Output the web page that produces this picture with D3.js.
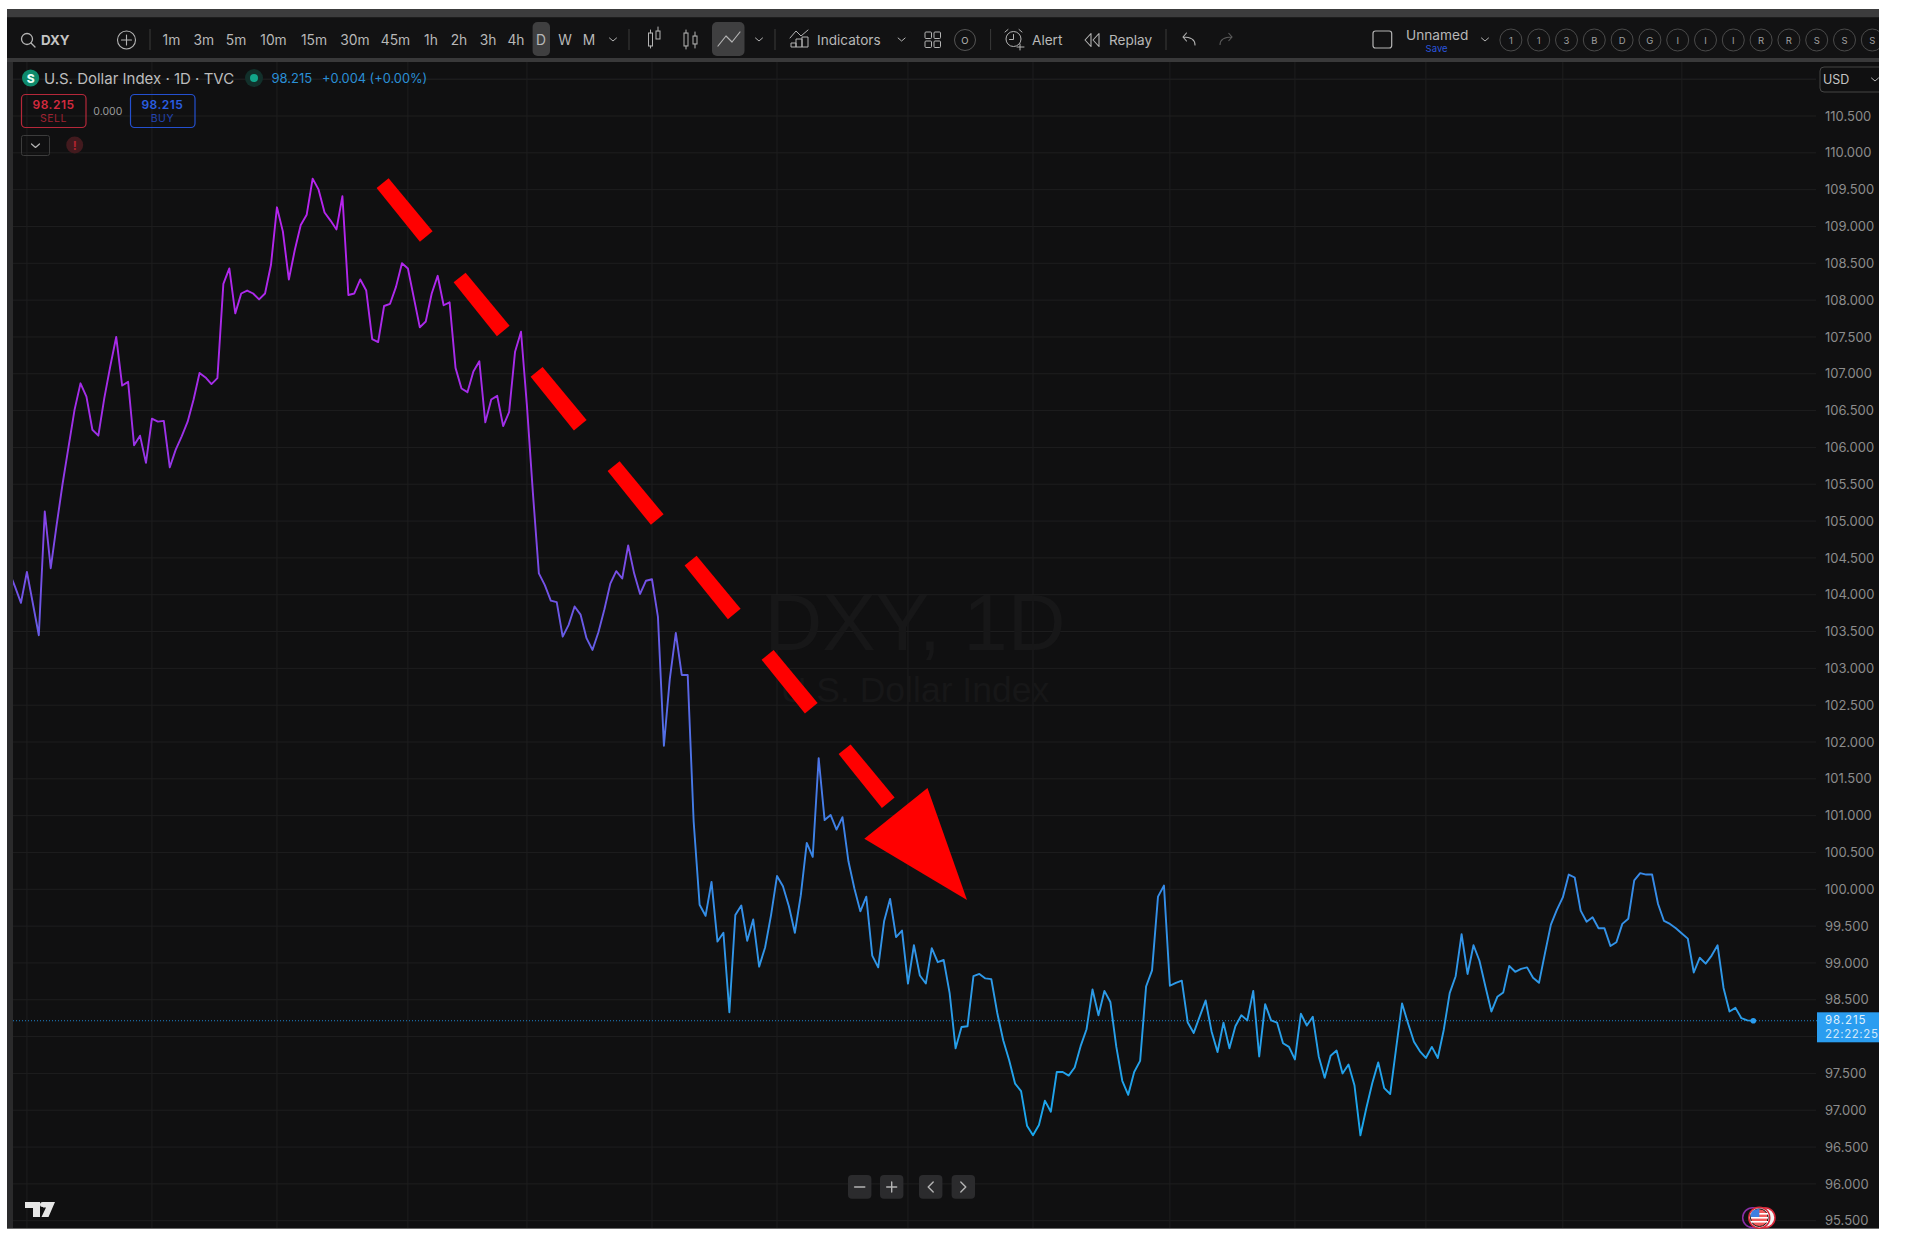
<!DOCTYPE html>
<html><head><meta charset="utf-8">
<script src="https://cdn.jsdelivr.net/npm/d3@7/dist/d3.min.js"></script>
<style>html,body{margin:0;padding:0;background:#fff}svg{display:block}text{font-family:Inter,"Noto Sans",sans-serif}</style>
</head><body><svg id="c" width="1908" height="1240"></svg>
<script>
const prices = [104.31,104.11,103.89,104.31,103.88,103.45,105.13,104.36,104.95,105.51,106.01,106.51,106.87,106.69,106.24,106.16,106.67,107.10,107.50,106.84,106.89,106.03,106.16,105.79,106.39,106.35,106.36,105.73,105.97,106.15,106.35,106.65,107.01,106.95,106.86,106.94,108.22,108.43,107.82,108.09,108.13,108.09,108.01,108.09,108.48,109.26,108.93,108.28,108.68,109.02,109.16,109.65,109.50,109.19,109.08,108.96,109.41,108.07,108.09,108.28,108.13,107.47,107.43,107.92,107.95,108.18,108.50,108.43,108.03,107.63,107.71,108.09,108.33,107.93,107.97,107.08,106.80,106.75,107.03,107.17,106.34,106.65,106.70,106.29,106.48,107.30,107.57,106.56,105.38,
104.29,104.13,103.92,103.90,103.43,103.59,103.84,103.73,103.41,103.25,103.49,103.80,104.15,104.32,104.22,104.67,104.29,104.01,104.19,104.21,103.70,101.95,102.86,103.48,102.91,102.91,100.92,99.79,99.64,100.10,99.29,99.41,98.33,99.65,99.78,99.30,99.59,98.95,99.21,99.65,100.18,100.04,99.77,99.41,99.92,100.63,100.44,101.78,100.94,101.01,100.81,100.98,100.38,100.01,99.70,99.90,99.10,98.94,99.57,99.87,99.35,99.44,98.72,99.24,98.83,98.72,99.20,99.01,99.04,98.59,97.84,98.13,98.14,98.82,98.85,98.79,98.78,98.32,97.95,97.68,97.36,97.26,96.79,96.66,
96.80,97.13,96.98,97.52,97.52,97.47,97.58,97.87,98.10,98.64,98.29,98.62,98.47,97.86,97.40,97.21,97.52,97.67,98.68,98.90,99.90,100.05,98.69,98.73,98.76,98.19,98.05,98.27,98.49,98.07,97.79,98.19,97.84,98.14,98.29,98.22,98.62,97.73,98.44,98.22,98.19,97.91,97.86,97.69,98.31,98.15,98.27,97.73,97.44,97.74,97.81,97.50,97.62,97.34,96.66,97.03,97.37,97.65,97.30,97.22,97.84,98.45,98.18,97.93,97.80,97.71,97.86,97.71,98.09,98.59,98.82,99.39,98.85,99.24,99.03,98.68,98.34,98.54,98.60,98.96,98.88,98.92,98.94,98.80,98.73,99.13,99.52,99.72,99.89,100.20,100.16,99.71,99.56,99.62,99.47,99.47,99.23,99.28,99.53,99.60,100.12,100.22,100.20,100.20,99.80,99.57,99.53,99.47,99.40,99.33,98.87,99.07,98.99,99.10,99.24,98.66,98.34,98.39,98.25,98.22,98.215];
const priceTicks = d3.range(95.5,111.01,0.5);
const timeGridBars = [3,24,45,67,87,108,129,151,172,195,216,238,261,281];
const lastPrice = 98.215;
const timeframes = [["1m",171.4],["3m",203.7],["5m",236],["10m",273.5],["15m",314],["30m",355],["45m",395.5],["1h",431],["2h",459],["3h",488],["4h",516],["D",541],["W",565],["M",589]];
const watchlist = ["1","1","3","B","D","G","I","I","I","R","R","S","S","S"];

const svg = d3.select("#c");
const x = d3.scaleLinear().domain([0,prices.length-1]).range([9.05,1753.3]);
const y = d3.scaleLinear().domain([95.5,110.5]).range([1220.7,116]);
const defs = svg.append("defs");
defs.append("clipPath").attr("id","pane").append("rect").attr("x",13).attr("y",62).attr("width",1866).attr("height",1166);
defs.append("clipPath").attr("id","frame").append("rect").attr("x",7).attr("y",9).attr("width",1872).attr("height",1220);
const g = defs.append("linearGradient").attr("id","lg").attr("gradientUnits","userSpaceOnUse")
  .attr("x1",0).attr("x2",0).attr("y1",y(109.65)).attr("y2",y(96.6));
[[0,"#b923ee"],[.25,"#a12ee8"],[.45,"#6c57e6"],[.7,"#3a86e8"],[.85,"#2c9be8"],[1,"#18a8ee"]].forEach(s=>g.append("stop").attr("offset",s[0]).attr("stop-color",s[1]));

const root = svg.append("g").attr("clip-path","url(#frame)");
root.append("rect").attr("x",7).attr("y",9).attr("width",1872).attr("height",1220).attr("fill","#101011");
root.append("rect").attr("x",7).attr("y",9).attr("width",1872).attr("height",8.5).attr("fill","#3c3c3d");
root.append("rect").attr("x",7).attr("y",17.5).attr("width",1872).attr("height",40.5).attr("fill","#121213");
root.append("rect").attr("x",7).attr("y",58).attr("width",1872).attr("height",4).attr("fill","#39393a");
root.append("rect").attr("x",7).attr("y",62).attr("width",6).attr("height",1167).attr("fill","#2a2a2b");
root.append("rect").attr("x",7).attr("y",1228).attr("width",1872).attr("height",1.5).attr("fill","#6a6a6a");

// grid
const grid = root.append("g");
grid.selectAll("line.h").data(priceTicks.concat([111])).join("line").attr("class","h")
  .attr("x1",13).attr("x2",1816).attr("y1",d=>y(d)).attr("y2",d=>y(d)).attr("stroke","#1e1e1f");
grid.selectAll("line.v").data(timeGridBars).join("line").attr("class","v")
  .attr("x1",d=>x(d)).attr("x2",d=>x(d)).attr("y1",62).attr("y2",1228).attr("stroke","#1e1e1f");

// watermark
root.append("text").attr("x",915).attr("y",650).attr("text-anchor","middle").attr("font-size",80).attr("fill","#171718")
  .style("font-family","'Liberation Sans'").text("DXY, 1D");
root.append("text").attr("x",915).attr("y",702).attr("text-anchor","middle").attr("font-size",35.5).attr("fill","#171718")
  .style("font-family","'Liberation Sans'").text("U.S. Dollar Index");

// price axis (the 98.000 label sits behind the last-price tag in the reference)
const axis = d3.axisRight(y).tickValues(priceTicks.filter(d=>d<=110.5 && d!==98)).tickSize(0).tickPadding(0).tickFormat(d3.format(".3f"));
const ax = root.append("g").attr("transform","translate(1825,0)").call(axis);
ax.select(".domain").remove();
ax.selectAll("text").attr("fill","#8c8c8c").attr("font-size",13).style("font-family","Inter,sans-serif");

// last price line
root.append("line").attr("x1",13).attr("x2",1817).attr("y1",y(lastPrice)).attr("y2",y(lastPrice))
  .attr("stroke","#1f82c8").attr("stroke-width",1).attr("stroke-dasharray","1 2");

// series
root.append("path").datum(prices).attr("clip-path","url(#pane)").attr("fill","none").attr("stroke","url(#lg)").attr("stroke-width",1.9)
  .attr("stroke-linejoin","round").attr("d",d3.line().x((d,i)=>x(i)).y(d=>y(d)));
root.append("circle").attr("cx",x(prices.length-1)).attr("cy",y(lastPrice)).attr("r",2.8).attr("fill","#2a9df0");

// last price tag
root.append("rect").attr("x",1817).attr("y",1012.3).attr("width",62).attr("height",30).attr("fill","#2a9df0");
root.append("text").attr("x",1825).attr("y",1024.3).attr("font-size",11.5).attr("letter-spacing",".9").attr("fill","#dff0fc").text(d3.format(".3f")(lastPrice));
root.append("text").attr("x",1825).attr("y",1038.3).attr("font-size",11.5).attr("letter-spacing",".6").attr("fill","#cfe8fa").text("22:22:25");

// red annotation arrow
const dashAnchor = d3.range(7).map(k=>[388.6+77*k,178.3+94.35*k]);
const dashShape = [[0,0],[44,53],[31.3,63.5],[-12,9.7]];
root.selectAll("polygon.dash").data(dashAnchor).join("polygon").attr("class","dash").attr("fill","#ff0000")
  .attr("points",a=>dashShape.map(p=>[a[0]+p[0],a[1]+p[1]].join(",")).join(" "));
root.append("polygon").attr("fill","#ff0000").attr("points","927.5,788 967,900 864.3,838.8");

// toolbar
const tb = root.append("g");
const icon = "#b4b4b4";
const T = (s,xx,yy,o={})=>{const t=tb.append("text").attr("x",xx).attr("y",yy).attr("font-size",o.size||13.6).attr("fill",o.fill||"#b8b8b8")
  .attr("text-anchor",o.anchor||"start").attr("dominant-baseline","central").text(s); if(o.weight)t.attr("font-weight",o.weight); if(o.ls)t.attr("letter-spacing",o.ls); return t;};
const P = (d,sw)=>tb.append("path").attr("d",d).attr("fill","none").attr("stroke",icon).attr("stroke-width",sw||1.2).attr("stroke-linecap","round").attr("stroke-linejoin","round");
const chev = (cx,cy)=>P(`M${cx-3.5},${cy-1.5}L${cx},${cy+1.5}L${cx+3.5},${cy-1.5}`,1);
const sep = xx=>tb.append("line").attr("x1",xx).attr("x2",xx).attr("y1",29).attr("y2",50).attr("stroke","#3a3a3a");
tb.append("circle").attr("cx",27).attr("cy",39).attr("r",5.5).attr("fill","none").attr("stroke",icon).attr("stroke-width",1.3);
P("M31,43L35,47",1.3);
T("DXY",41,39.5,{weight:700,fill:"#c4c4c4",size:13.4});
tb.append("circle").attr("cx",126.5).attr("cy",40).attr("r",9).attr("fill","none").attr("stroke",icon).attr("stroke-width",1.1);
P("M121.5,40H131.5M126.5,35V45",1.1);
sep(150);
tb.append("rect").attr("x",532.6).attr("y",22).attr("width",17.4).attr("height",34).attr("rx",5).attr("fill","#3f3f40");
timeframes.forEach(t=>T(t[0],t[1],39.5,{anchor:"middle",size:13.8}));
chev(613,39.5); sep(629);
// chart type icons
tb.append("rect").attr("x",648.5).attr("y",33).attr("width",4).attr("height",13).attr("fill","none").attr("stroke",icon);
tb.append("rect").attr("x",656).attr("y",31).attr("width",4).attr("height",8).attr("fill","none").attr("stroke",icon);
P("M650.5,30V33M650.5,46V48M658,27V31",1);
tb.append("rect").attr("x",684).attr("y",33).attr("width",4).attr("height",13).attr("fill","none").attr("stroke",icon);
tb.append("rect").attr("x",693).attr("y",36).attr("width",4).attr("height",8).attr("fill","none").attr("stroke",icon);
P("M686,30V33M686,46V49M695,32V36M695,44V48",1);
tb.append("rect").attr("x",712).attr("y",22).attr("width",32.5).attr("height",34).attr("rx",5).attr("fill","#3f3f40");
P("M718,46L726,36L732,42L740,32",1.2);
chev(759,39.5); sep(775);
P("M790,38L796,31L801,36L808,30",1);
tb.append("path").attr("d","M791,47V43H796V47ZM796,47V39H802V47ZM802,47V37H808V47Z").attr("fill","none").attr("stroke",icon);
T("Indicators",817,39.5);
chev(901.6,39.5);
[[925,32],[934,32],[925,41],[934,41]].forEach(p=>tb.append("rect").attr("x",p[0]).attr("y",p[1]).attr("width",6.5).attr("height",6.5).attr("rx",1).attr("fill","none").attr("stroke",icon));
tb.append("circle").attr("cx",965).attr("cy",40).attr("r",10.5).attr("fill","none").attr("stroke","#555");
T("O",965,40,{anchor:"middle",size:9.5});
sep(990.6);
tb.append("circle").attr("cx",1013.5).attr("cy",39).attr("r",7.5).attr("fill","none").attr("stroke",icon);
P("M1013.5,34.5V39.5H1009.5M1005,32L1008,29.5M1022,32L1019,29.5M1020,44V50M1017,47H1024",1);
T("Alert",1032,39.5);
P("M1091,33.5L1085,40L1091,46.5ZM1099,33.5L1093,40L1099,46.5Z",1.1);
T("Replay",1109,39.5);
sep(1166);
P("M1195,45C1195,39 1191,37 1183,37M1186.5,33L1183,37L1186.5,41",1.1);
tb.append("path").attr("d","M1220,45C1220,39 1224,37 1232,37M1228.5,33L1232,37L1228.5,41").attr("fill","none").attr("stroke","#5a5a5a").attr("stroke-width",1.1);
tb.append("rect").attr("x",1373).attr("y",31).attr("width",18.7).attr("height",17).attr("rx",2.5).attr("fill","none").attr("stroke",icon).attr("stroke-width",1.2);
T("Unnamed",1406,35,{size:13.7});
T("Save",1436.6,48.5,{size:9.5,anchor:"middle",fill:"#2a55dd"});
chev(1485,39.5);
watchlist.forEach((s,i)=>{const cx=1510.9+27.8*i;
  tb.append("circle").attr("cx",cx).attr("cy",40).attr("r",11).attr("fill","none").attr("stroke","#4a4a4a");
  T(s,cx,40,{size:9.5,anchor:"middle",fill:"#a0a0a0"});});

// USD box
tb.append("rect").attr("x",1820).attr("y",67).attr("width",70).attr("height",25).attr("rx",4).attr("fill","#101011").attr("stroke","#454545");
T("USD",1823,79.5,{size:12.5,fill:"#c4c4c4"}); chev(1875,79.5);

// legend
tb.append("circle").attr("cx",30.6).attr("cy",78).attr("r",8.6).attr("fill","#0e8a6c");
T("S",30.6,78.5,{anchor:"middle",weight:800,size:12,fill:"#eafff8"});
T("U.S. Dollar Index · 1D · TVC",44,78,{size:15,fill:"#bdbdbd"});
tb.append("circle").attr("cx",254).attr("cy",78).attr("r",9).attr("fill","#12302b");
tb.append("circle").attr("cx",254).attr("cy",78).attr("r",4).attr("fill","#12a58a");
T("98.215",271.4,78,{fill:"#2a8fd6",size:13});
T("+0.004 (+0.00%)",322,78,{fill:"#2a8fd6",size:12.8});
tb.append("rect").attr("x",21.5).attr("y",94.5).attr("width",64.5).attr("height",33).attr("rx",4).attr("fill","none").attr("stroke","#b5283a").attr("stroke-width",1.2);
T("98.215",53.5,104.5,{anchor:"middle",size:12,weight:600,fill:"#d42a3f",ls:".5"});
T("SELL",53.5,118.5,{anchor:"middle",size:10.5,fill:"#a02232",ls:".5"});
T("0.000",107.8,111,{anchor:"middle",size:10.5,fill:"#9a9a9a"});
tb.append("rect").attr("x",130.5).attr("y",94.5).attr("width",64.5).attr("height",33).attr("rx",4).attr("fill","none").attr("stroke","#2450d0").attr("stroke-width",1.2);
T("98.215",162.4,104.5,{anchor:"middle",size:12,weight:600,fill:"#2a5ee2",ls:".5"});
T("BUY",162.4,118.5,{anchor:"middle",size:10.5,fill:"#2244b0",ls:".5"});
tb.append("rect").attr("x",21.5).attr("y",135.5).attr("width",28).attr("height",20).attr("rx",2).attr("fill","none").attr("stroke","#3c3c3c");
P("M31.5,144L35.5,147.5L39.5,144",1.2);
tb.append("circle").attr("cx",74.7).attr("cy",145).attr("r",8.5).attr("fill","#421a1e");
T("!",74.7,145,{anchor:"middle",size:12,weight:700,fill:"#b0242f"});

// bottom buttons
[[848,"-"],[880,"+"],[919,"<"],[951.6,">"]].forEach(b=>{
  tb.append("rect").attr("x",b[0]).attr("y",1175).attr("width",23.4).attr("height",23.7).attr("rx",4).attr("fill","#2b2b2d");
  const c=b[0]+11.7,m=1187;
  if(b[1]=="-")P(`M${c-5},${m}H${c+5}`,1.6);
  if(b[1]=="+")P(`M${c-5},${m}H${c+5}M${c},${m-5}V${m+5}`,1.4);
  if(b[1]=="<")P(`M${c+2.5},${m-5}L${c-2.5},${m}L${c+2.5},${m+5}`,1.4);
  if(b[1]==">")P(`M${c-2.5},${m-5}L${c+2.5},${m}L${c-2.5},${m+5}`,1.4);
});
// logo
tb.append("path").attr("fill","#e6e6e6").attr("d","M25,1202H40V1217H33V1208H25ZM43,1202H55L48.5,1217H41.5L46,1207.5H43Z");
tb.append("circle").attr("cx",42.5).attr("cy",1204.5).attr("r",2.5).attr("fill","#e6e6e6");

// event flags
tb.append("circle").attr("cx",1752.7).attr("cy",1217.7).attr("r",10).attr("fill","none").attr("stroke","#8a2fa8").attr("stroke-width",1.5);
tb.append("circle").attr("cx",1765).attr("cy",1217.7).attr("r",10).attr("fill","#f4f4f4").attr("stroke","#d9283a").attr("stroke-width",1.5);
tb.append("circle").attr("cx",1759.3).attr("cy",1217.7).attr("r",10.5).attr("fill","#f4f4f4").attr("stroke","#d9283a").attr("stroke-width",1.5);
tb.append("circle").attr("cx",1759.3).attr("cy",1217.7).attr("r",8.8).attr("fill","#f05a5a").attr("stroke","#111").attr("stroke-width",1);
[1213,1217,1221].forEach(v=>tb.append("rect").attr("x",1751).attr("y",v).attr("width",17).attr("height",1.6).attr("fill","#fff"));
tb.append("path").attr("d","M1752,1211.5A8.8,8.8 0 0 1 1759.3,1209V1217H1750.6A8.8,8.8 0 0 1 1752,1211.5Z").attr("fill","#3f7fe0");
</script></body></html>
